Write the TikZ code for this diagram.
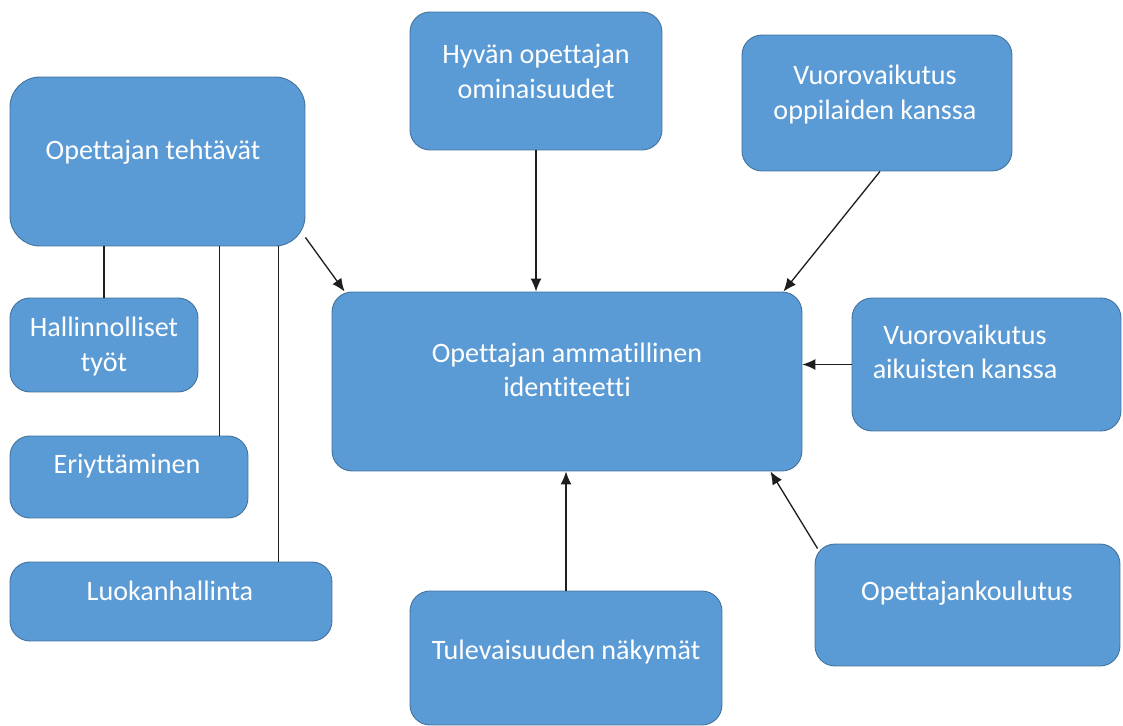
\documentclass[tikz,border=0pt]{standalone}
\usepackage{fontspec}
\setmainfont{Carlito}[Ligatures=NoCommon]
\usepackage{tikz}
\usetikzlibrary{arrows,arrows.meta,shapes,positioning}
\definecolor{boxblue}{RGB}{91,155,213}
\definecolor{boxedge}{RGB}{65,113,156}
\definecolor{linegray}{RGB}{30,30,30}
\tikzstyle{arrow} = [line width=0.75pt,->,>={Latex[length=2.6mm,width=2.2mm]},color=linegray]
\tikzstyle{link} = [line width=0.75pt,color=linegray]
\tikzstyle{box} = [rectangle, rounded corners=0.4cm, draw=boxedge, fill=boxblue, line width=0.5pt, inner sep=0pt]
\tikzstyle{boxtext} = [font=\fontsize{16}{19.5}\selectfont, text=white, align=center, inner sep=0pt]

\begin{document}
\begin{tikzpicture}[x=0.02cm, y=-0.02cm]
\useasboundingbox (0,0) rectangle (1123,726);

% Centre
\node (oai) [box, minimum width=9.4cm, minimum height=3.58cm] at (567,381.5) {};
\node (oai-t) [boxtext] at (567,370) {Opettajan ammatillinen\\identiteetti};

% Teacher's tasks and its branches
\node (ot) [box, rounded corners=0.6cm, minimum width=5.9cm, minimum height=3.38cm] at (157.5,161.5) {};
\node (ot-t) [boxtext] at (153,152) {Opettajan tehtävät};
\node (hal) [box, minimum width=3.76cm, minimum height=1.88cm] at (104,345) {};
\node (hal-t) [boxtext] at (104,346.5) {Hallinnolliset\\työt};
\node (eri) [box, minimum width=4.76cm, minimum height=1.64cm] at (129,477) {};
\node (eri-t) [boxtext] at (127,466) {Eriyttäminen};
\node (luo) [box, minimum width=6.44cm, minimum height=1.58cm] at (171,601.5) {};
\node (luo-t) [boxtext] at (170,591) {Luokanhallinta};

% Boxes round the centre
\node (hyo) [box, minimum width=5.04cm, minimum height=2.76cm] at (536,81) {};
\node (hyo-t) [boxtext] at (536,71.5) {Hyvän opettajan\\ominaisuudet};
\node (vop) [box, minimum width=5.4cm, minimum height=2.72cm] at (877,103) {};
\node (vop-t) [boxtext] at (875,94.5) {Vuorovaikutus\\oppilaiden kanssa};
\node (vak) [box, minimum width=5.38cm, minimum height=2.66cm] at (986.5,364.5) {};
\node (vak-t) [boxtext] at (965,351.5) {Vuorovaikutus\\aikuisten kanssa};
\node (ok) [box, minimum width=6.1cm, minimum height=2.44cm] at (967.5,605) {};
\node (ok-t) [boxtext] at (967,593) {Opettajankoulutus};
\node (tul) [box, minimum width=6.24cm, minimum height=2.68cm] at (566,658) {};
\node (tul-t) [boxtext] at (566,652) {Tulevaisuuden näkymät};

% Branch lines
\draw[link] (hal.north) -- (hal.north |- ot.south);
\draw[link] ([xshift=-0.58cm]eri.north east) -- ([xshift=-0.58cm]eri.north east |- ot.south);
\draw[link] ([xshift=-1.08cm]luo.north east) -- ([xshift=-1.08cm]luo.north east |- ot.south);

% Arrows into the centre
\draw[arrow] ([yshift=0.18cm]ot.south east) -- ([xshift=0.26cm]oai.north west);
\draw[arrow] (hyo.south) -- (hyo.south |- oai.north);
\draw[arrow] ([xshift=0.06cm]vop.south) -- ([xshift=-0.38cm]oai.north east);
\draw[arrow] (vak.west) -- (vak.west -| oai.east);
\draw[arrow] (tul.north) -- (tul.north |- oai.south);
\draw[arrow] ([shift={(0.06cm,-0.1cm)}]ok.north west) -- ([xshift=-0.64cm]oai.south east);
\end{tikzpicture}
\end{document}
